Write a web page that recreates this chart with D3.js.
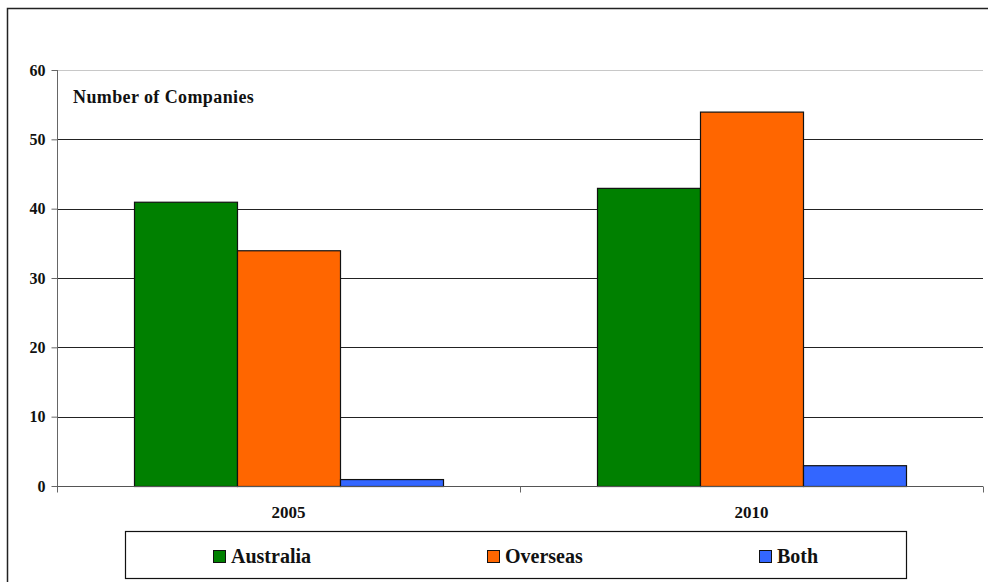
<!DOCTYPE html>
<html>
<head>
<meta charset="utf-8">
<script src="https://cdn.jsdelivr.net/npm/d3@7"></script>
<style>
  html, body { margin: 0; padding: 0; background: #fff; }
  svg { display: block; }
</style>
</head>
<body>
<svg id="chart" width="988" height="582"></svg>
<script>
// Companies counted per year, by where they are listed
const years = ["2005", "2010"];
const seriesNames = ["Australia", "Overseas", "Both"];
const australia = [41, 43];
const overseas = [34, 54];
const both = [1, 3];
const seriesColors = ["#008000", "#FF6600", "#3366FF"];
const yTicks = [0, 10, 20, 30, 40, 50, 60];
const axisTitle = "Number of Companies";

const seriesValues = [australia, overseas, both];
const FONT = '"Liberation Serif", "Times New Roman", serif';

const svg = d3.select("#chart");

function styleText(sel, size) {
  return sel.style("font-family", FONT)
    .style("font-weight", "bold")
    .style("font-size", size + "px")
    .style("fill", "#111");
}

// outer frame
svg.append("rect")
  .attr("x", 7.5).attr("y", 8.5)
  .attr("width", 1000).attr("height", 600)
  .attr("fill", "#fff")
  .attr("stroke", "#222").attr("stroke-width", 1.5);

const plot = { left: 57, right: 983, top: 70, bottom: 486 };

const x = d3.scaleBand().domain(years).range([plot.left, plot.right]).padding(0);
const groupPad = 77;
const xs = d3.scaleBand().domain(seriesNames)
  .range([groupPad, x.bandwidth() - groupPad]).padding(0);
const y = d3.scaleLinear().domain([0, 60]).range([plot.bottom, plot.top]);

// horizontal gridlines
svg.append("g")
  .selectAll("line")
  .data(yTicks.filter(t => t > 0))
  .join("line")
  .attr("x1", plot.left).attr("x2", plot.right)
  .attr("y1", d => Math.round(y(d)) + 0.5).attr("y2", d => Math.round(y(d)) + 0.5)
  .attr("stroke", d => d === 60 ? "#c8c8c8" : "#222")
  .attr("stroke-width", 1);

// bars
const groups = svg.append("g")
  .selectAll("g")
  .data(years)
  .join("g")
  .attr("transform", d => `translate(${x(d)},0)`);

groups.selectAll("rect")
  .data((yr, i) => seriesNames.map((s, k) => ({ s, k, v: seriesValues[k][i] })))
  .join("rect")
  .attr("x", d => xs(d.s) + 0.5)
  .attr("y", d => y(d.v) + 0.5)
  .attr("width", xs.bandwidth())
  .attr("height", d => y(0) - y(d.v))
  .attr("fill", d => seriesColors[d.k])
  .attr("stroke", "#111")
  .attr("stroke-width", 1.2);

// y axis
const yAxis = svg.append("g")
  .attr("transform", `translate(${plot.left + 0.5},0)`)
  .call(d3.axisLeft(y).tickValues(yTicks).tickSize(6).tickPadding(6).tickFormat(d3.format("d")));
yAxis.select(".domain").attr("stroke", "#666").attr("d", `M0,${plot.top}V${plot.bottom + 4}`);
yAxis.selectAll(".tick line").attr("stroke", "#666");
styleText(yAxis.selectAll(".tick text"), 16);

// x axis
const xAxisG = svg.append("g").attr("transform", `translate(0,${plot.bottom + 0.5})`);
xAxisG.append("line")
  .attr("x1", plot.left).attr("x2", plot.right)
  .attr("stroke", "#555").attr("stroke-width", 1.2);
xAxisG.selectAll("line.tk")
  .data([plot.left, x("2010"), plot.right])
  .join("line")
  .attr("class", "tk")
  .attr("x1", d => d + 0.5).attr("x2", d => d + 0.5)
  .attr("y1", 0).attr("y2", 6)
  .attr("stroke", "#666");
styleText(xAxisG.selectAll("text")
  .data(years)
  .join("text")
  .attr("x", d => x(d) + x.bandwidth() / 2)
  .attr("y", 31)
  .attr("text-anchor", "middle")
  .text(d => d), 17);

// axis title inside the plot
styleText(svg.append("text")
  .attr("x", 73).attr("y", 103)
  .style("letter-spacing", "0.4px")
  .text(axisTitle), 18);

// legend
const legend = svg.append("g");
legend.append("rect")
  .attr("x", 125.5).attr("y", 531.5)
  .attr("width", 781).attr("height", 47)
  .attr("fill", "#fff").attr("stroke", "#111").attr("stroke-width", 1.2);
const legendX = [213, 487, 759];
const items = legend.selectAll("g.item")
  .data(seriesNames)
  .join("g")
  .attr("class", "item")
  .attr("transform", (d, i) => `translate(${legendX[i]},550)`);
items.append("rect")
  .attr("x", 0.5).attr("y", 0.5)
  .attr("width", 12).attr("height", 12)
  .attr("fill", (d, i) => seriesColors[i])
  .attr("stroke", "#111").attr("stroke-width", 1);
styleText(items.append("text")
  .attr("x", 18).attr("y", 13)
  .text(d => d), 20);
</script>
</body>
</html>
